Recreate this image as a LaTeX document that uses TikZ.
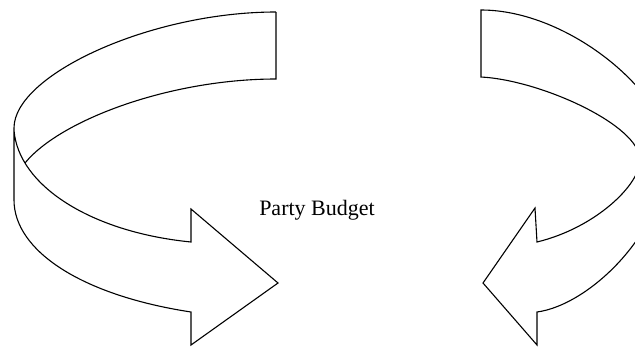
\documentclass[tikz,border=0pt]{standalone}
\usepackage{fontspec}
\setmainfont{Liberation Serif}
\begin{document}
\begin{tikzpicture}[x=1pt,y=-1pt,
  band/.style={draw=black, line width=1.1pt, line join=miter},
  caption/.style={font=\fontsize{22}{26}\selectfont, inner sep=0pt}]
\useasboundingbox (0,0) rectangle (635,346);
\fill[white] (0,0) rectangle (635,346);
\clip (0,0) rectangle (635,346);

% left arrow: twisted ribbon turning down and pointing right
\draw[band] (276,12) .. controls (150,12) and (14,75) .. (14,128)
  -- (14,200) .. controls (14,250) and (80,295) .. (191,312)
  -- (191,345) -- (278,283) -- (191,209) -- (191,242)
  .. controls (90,232) and (18,185) .. (14,130);
\draw[band] (276,12) -- (276,79)
  .. controls (170,79) and (60,120) .. (25,163);

% right arrow: ribbon turning down and pointing left
\draw[band] (481,10) -- (481,77)
  .. controls (540,80) and (640,125) .. (640,160)
  .. controls (640,185) and (595,228) .. (537,242)
  -- (535,208) -- (483,283) -- (537,345) -- (537,312)
  .. controls (590,305) and (668,230) .. (668,150)
  .. controls (668,95) and (570,10) .. (481,10) -- cycle;

\node[caption] (title) at (317,210) {Party Budget};
\end{tikzpicture}
\end{document}
